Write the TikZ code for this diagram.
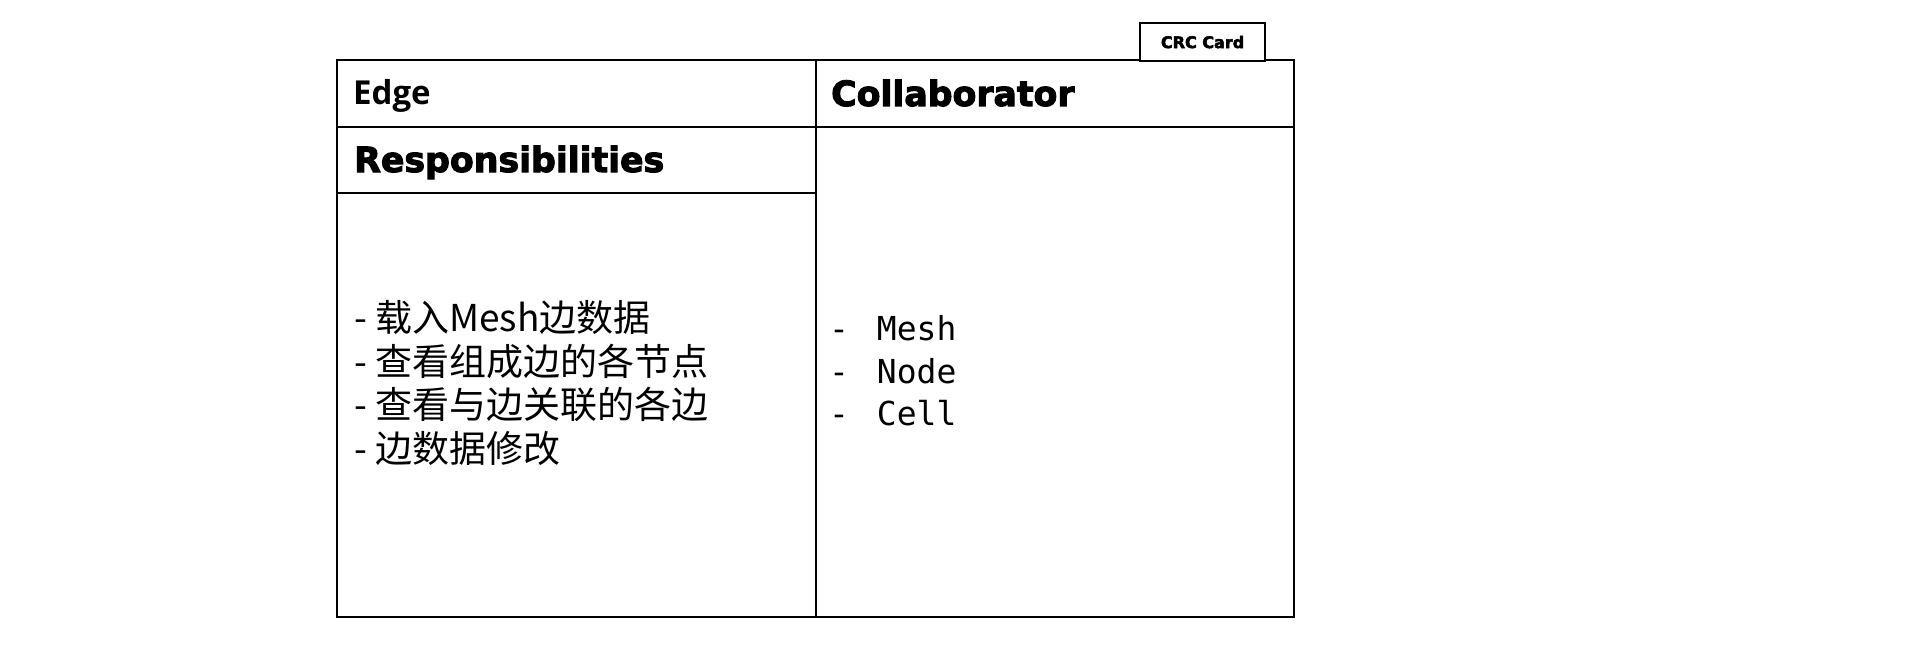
\documentclass[tikz,border=0pt]{standalone}
\usepackage{fontspec}
\newfontfamily\cjkfont{Noto Sans CJK SC}
\newfontfamily\headfont{DejaVu Sans}[BoldFeatures={FakeBold=3}]
\newfontfamily\namefont{Open Sans}
\newfontfamily\codefont{DejaVu Sans Mono}
\tikzset{
  cardline/.style={line width=2.2pt, draw=black},
  headtxt/.style={anchor=base west, inner sep=0pt, font=\headfont\bfseries\fontsize{34.7}{40}\selectfont},
  nametxt/.style={anchor=base west, inner sep=0pt, font=\namefont\bfseries\fontsize{33}{38}\selectfont},
  resptxt/.style={anchor=base west, inner sep=0pt, font=\cjkfont\fontsize{37}{43}\selectfont},
  colltxt/.style={anchor=base west, inner sep=0pt, font=\codefont\fontsize{33}{43}\selectfont},
  tabbox/.style={cardline, fill=white, inner sep=0pt, minimum width=125pt, minimum height=38pt,
                 font=\headfont\bfseries\fontsize{16}{19}\selectfont},
}
\begin{document}
\begin{tikzpicture}[x=1pt,y=-1pt]
\useasboundingbox (0,0) rectangle (1920,650);
% card frame
\coordinate (tl) at (337,60);
\coordinate (br) at (1294,617);
\draw[cardline] (tl) rectangle (br);
\draw[cardline] (816,60) -- (816,617);
\draw[cardline] (337,127) -- (1294,127);
\draw[cardline] (337,193) -- (816,193);
% tab
\node[tabbox, anchor=north west] (tab) at (1139,22) {CRC Card};
% headers
\node[nametxt] (name) at (353,105) {Edge};
\node[headtxt] (collab) at (831,106) {Collaborator};
\node[headtxt] (resp) at (354,172) {Responsibilities};
% responsibilities
\node[resptxt] (r1) at (354,331.5) {- 载入Mesh边数据};
\node[resptxt] (r2) at (354,375) {- 查看组成边的各节点};
\node[resptxt] (r3) at (354,418.5) {- 查看与边关联的各边};
\node[resptxt] (r4) at (354,462) {- 边数据修改};
% collaborators
\node[colltxt] (c1) at (829,340) {-\hspace{8pt} Mesh};
\node[colltxt] (c2) at (829,383) {-\hspace{8pt} Node};
\node[colltxt] (c3) at (829,425.5) {-\hspace{8pt} Cell};
\end{tikzpicture}
\end{document}
